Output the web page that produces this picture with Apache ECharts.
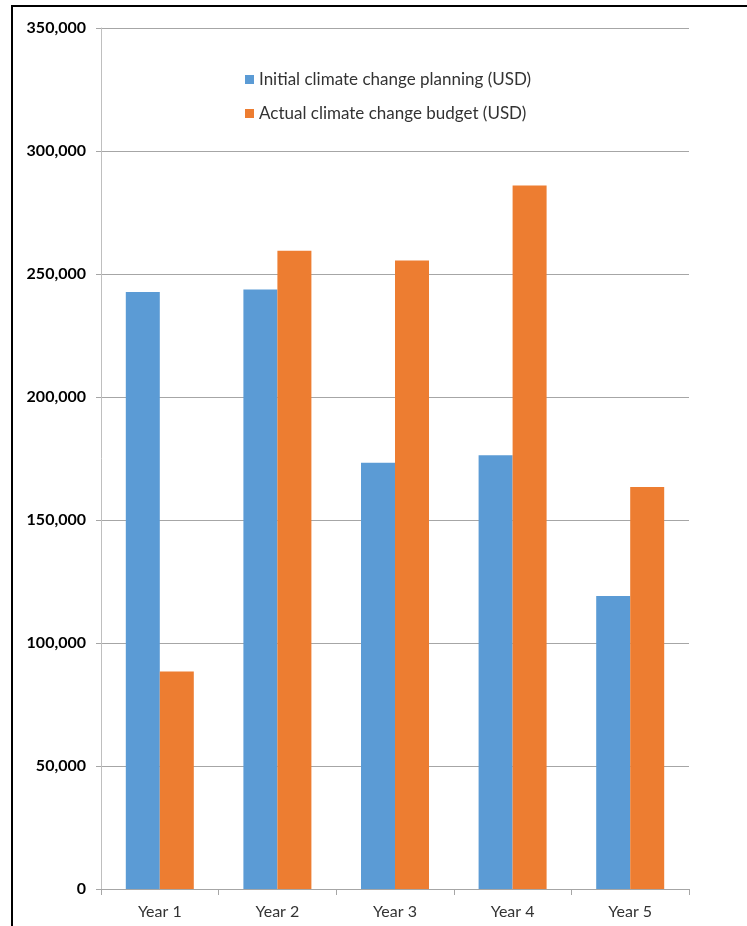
<!DOCTYPE html>
<html>
<head>
<meta charset="utf-8">
<script src="https://cdn.jsdelivr.net/npm/echarts@6/dist/echarts.min.js"></script>
<style>
  html, body { margin: 0; padding: 0; background: #fff; overflow: hidden; }
  #frame { position: absolute; left: 11px; top: 5px; width: 800px; height: 1000px; border: 2px solid #000; box-sizing: border-box; }
  #chart { position: absolute; left: 0; top: 0; width: 747px; height: 926px; }
</style>
</head>
<body>
<div id="frame"></div>
<div id="chart"></div>
<script>
// chart data
const years = ["Year 1", "Year 2", "Year 3", "Year 4", "Year 5"];
const seriesNames = ["Initial climate change planning (USD)", "Actual climate change budget (USD)"];
const planned = [242700, 243700, 173300, 176300, 119100];
const actual = [88400, 259500, 255500, 286000, 163400];

const chart = echarts.init(document.getElementById("chart"));

chart.setOption({
  animation: false,
  color: ["#5b9bd5", "#ed7d31"],
  textStyle: { fontFamily: "Lato" },
  legend: {
    orient: "vertical",
    left: 240,
    top: 66,
    itemWidth: 9,
    itemHeight: 9,
    itemGap: 17,
    icon: "rect",
    data: seriesNames,
    textStyle: { fontSize: 17, color: "#333", fontFamily: "Lato" },
  },
  grid: {
    left: 101,
    right: 58,
    top: 28,
    bottom: 37,
  },
  xAxis: {
    type: "category",
    data: years,
    axisLine: { lineStyle: { color: "#a6a6a6", width: 1 } },
    axisTick: { show: true, length: 6, lineStyle: { color: "#a6a6a6" } },
    axisLabel: { fontSize: 16, color: "#333", margin: 15 },
  },
  yAxis: {
    type: "value",
    min: 0,
    max: 350000,
    interval: 50000,
    axisLine: { show: true, lineStyle: { color: "#bfbfbf" } },
    axisTick: { show: true, length: 5, lineStyle: { color: "#a6a6a6" } },
    splitLine: { lineStyle: { color: "#a6a6a6", width: 1 } },
    axisLabel: {
      fontSize: 16,
      fontWeight: "bold",
      color: "#000",
      margin: 15,
      formatter: (v) => v.toLocaleString("en-US"),
    },
  },
  series: [
    {
      name: seriesNames[0],
      type: "bar",
      data: planned,
      barWidth: 34,
      barGap: "0%",
    },
    {
      name: seriesNames[1],
      type: "bar",
      data: actual,
      barWidth: 34,
      barGap: "0%",
    },
  ],
});
</script>
</body>
</html>
